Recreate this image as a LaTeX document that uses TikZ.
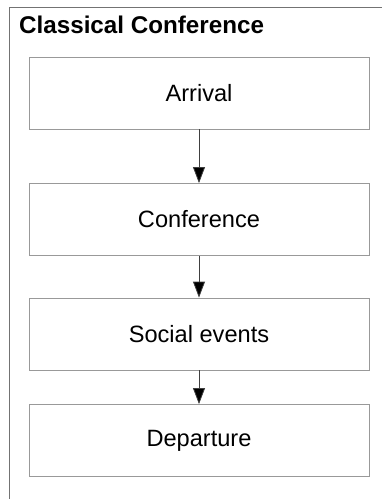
\documentclass[tikz,border=0pt]{standalone}
\usepackage{fontspec}
\setmainfont{Liberation Sans}
\usetikzlibrary{arrows.meta}
\begin{document}
\begin{tikzpicture}[x=1pt,y=-1pt,
stagebox/.style={draw=black!40,line width=0.8pt,minimum width=340pt,minimum height=72pt,inner sep=0pt,font=\fontsize{23.6}{28}\selectfont},
flowarrow/.style={draw=black!75,line width=0.8pt,-{Triangle[length=16pt,width=12pt,fill=black]}}]
\useasboundingbox(0,0)rectangle(382,499);
\pgfmathsetmacro{\kcx}{199}
\draw[black!55,line width=1pt](9.5,520)--(9.5,7)--(400,7);
\node[anchor=base west,inner sep=0pt,font=\bfseries\fontsize{24.2}{28}\selectfont](title)at(19,33){Classical Conference};
\node[stagebox](arr)at(\kcx,93){Arrival};
\node[stagebox](conf)at(\kcx,219.5){Conference};
\node[stagebox](soc)at(\kcx,334){Social events};
\node[stagebox](dep)at(\kcx,440.5){Departure};
\foreach \ka/\kb in {arr/conf,conf/soc,soc/dep}{\draw[flowarrow](\ka)--(\kb);}
\end{tikzpicture}
\end{document}
